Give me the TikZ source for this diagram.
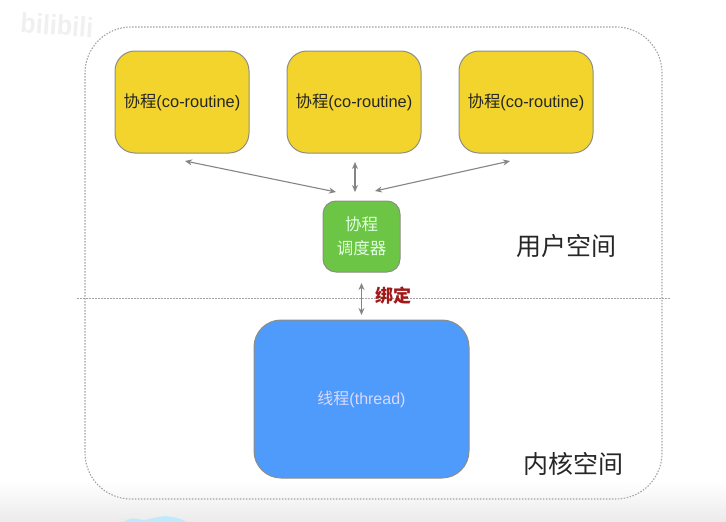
\documentclass[tikz,border=0pt]{standalone}
\usepackage{fontspec}
\setmainfont{Liberation Sans}
\newfontfamily\cjk{Noto Sans CJK SC}[Scale=1]
\usetikzlibrary{arrows.meta}
\definecolor{yel}{HTML}{F3D42C}
\definecolor{grn}{HTML}{6CC544}
\definecolor{blu}{HTML}{4F9BFB}
\definecolor{edge}{HTML}{8E8E84}
\definecolor{arr}{HTML}{858585}
\definecolor{bindred}{HTML}{A01818}
\tikzset{
  x=1pt,y=-1pt,
  box/.style={draw=edge,line width=1pt,rounded corners=#1,anchor=north west,inner sep=0pt},
  corobox/.style={box=20pt,fill=yel,minimum width=134pt,minimum height=102pt,text=black!85,font=\fontsize{16.4}{18}\selectfont},
  link/.style={draw=arr,line width=1.1pt,{Stealth[length=7pt,width=6pt]}-{Stealth[length=7pt,width=6pt]}},
  dots/.style={draw=black!36,line width=1.1pt,dash pattern=on 1.5pt off 1.5pt},
  space/.style={font=\cjk\fontsize{25}{28}\selectfont,text=black!85,inner sep=0pt}
}
\begin{document}
\begin{tikzpicture}
\useasboundingbox (0,0) rectangle (726,522);
\fill[white] (0,0) rectangle (726,522);
\shade[top color=white,bottom color=black!8] (0,482) rectangle (726,522);
\fill[cyan!25!white] (124,522) .. controls (130,517) and (136,518) .. (142,520) .. controls (150,520) and (162,514) .. (172,517) .. controls (178,518) and (182,519) .. (186,522) -- cycle;
\node[rotate=-4,xscale=0.9,font=\bfseries\fontsize{28}{28}\selectfont,text=black!6,inner sep=0pt] (logo) at (57,25) {bilibili};
\draw[dots,rounded corners=46pt] (85,27) rectangle (662,499);
\draw[dots,line width=0.9pt] (77,298) -- (671,298);
\node[corobox] (c1) at (114.5,50.5) {\raisebox{-1pt}{{\cjk 协程}(co-routine)}};
\node[corobox] (c2) at (286.5,50.5) {\raisebox{-1pt}{{\cjk 协程}(co-routine)}};
\node[corobox] (c3) at (458.5,50.5) {\raisebox{-1pt}{{\cjk 协程}(co-routine)}};
\node[box=13pt,fill=grn,minimum width=77pt,minimum height=71pt,text=white!88!green,align=center,font=\cjk\fontsize{16.5}{24}\selectfont] (sch) at (322.5,200.5) {协程\\调度器};
\node[box=27pt,fill=blu,minimum width=215pt,minimum height=158pt,text=white!85!blue,font=\fontsize{16}{18}\selectfont] (thr) at (253.5,319.5) {\raisebox{-1pt}{{\cjk 线程}(thread)}};
\node[font=\cjk\bfseries\fontsize{18}{20}\selectfont,text=bindred,inner sep=0pt] (bind) at (393,296) {绑定};
\node[space] (us) at (566,246) {用户空间};
\node[space] (ks) at (573,464) {内核空间};
\coordinate (a1) at (185,161);
\coordinate (b1) at (336,192);
\coordinate (a2) at (355,162);
\coordinate (b2) at (355,192);
\coordinate (a3) at (510,161);
\coordinate (b3) at (375,191);
\coordinate (a4) at (361.5,283);
\coordinate (b4) at (361.5,315);
\draw[link] (a1) -- (b1);
\draw[link] (a2) -- (b2);
\draw[link] (a3) -- (b3);
\draw[link] (a4) -- (b4);
\end{tikzpicture}
\end{document}
